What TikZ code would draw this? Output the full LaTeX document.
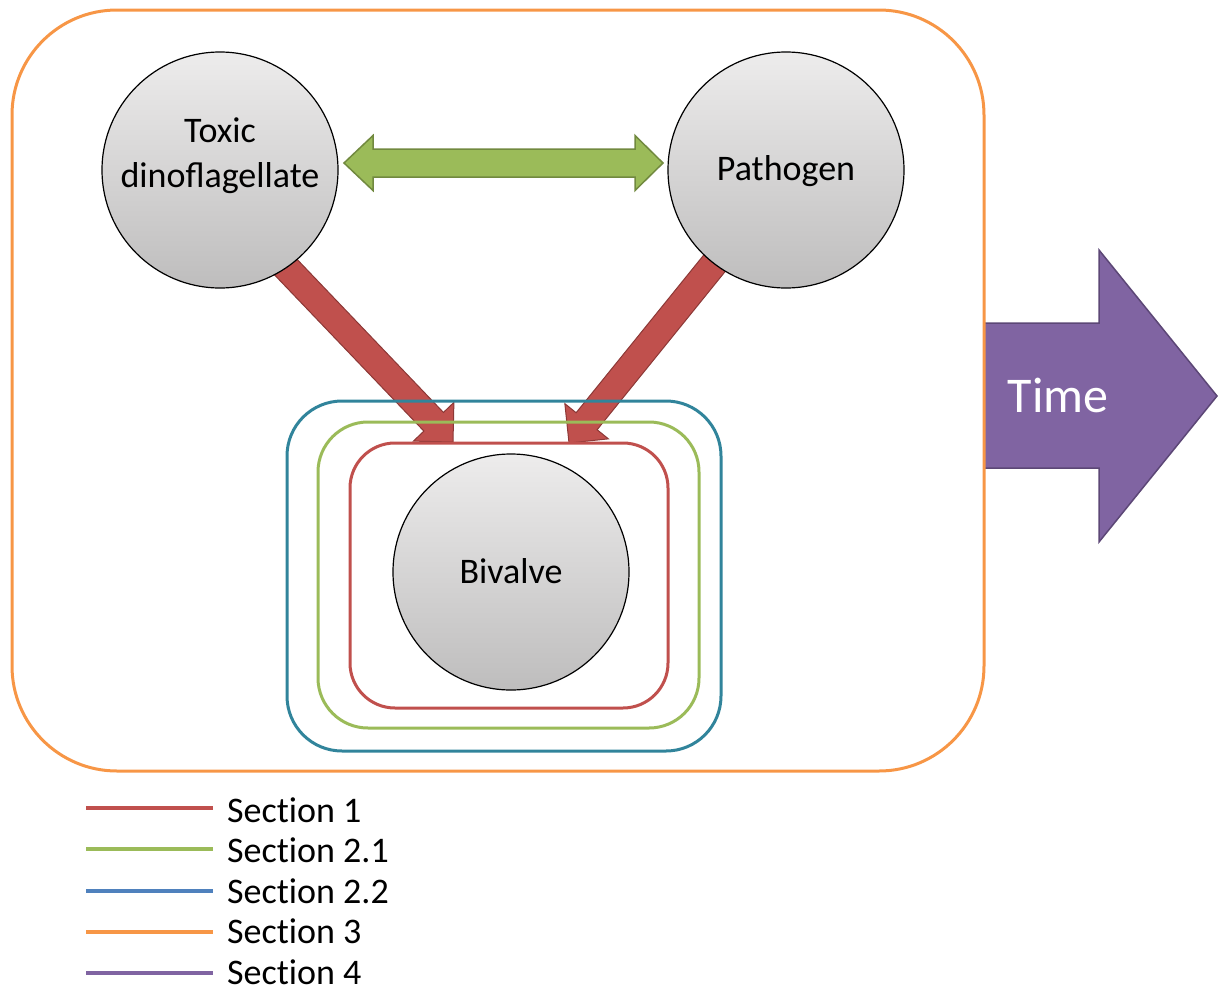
\documentclass[tikz,border=0pt]{standalone}
\usepackage{fontspec}
\setmainfont{Carlito}
\newfontfamily\legfont{Carlito}[Ligatures=NoCommon]
\usetikzlibrary{calc}
\definecolor{cred}{HTML}{C0504D}
\definecolor{cgreen}{HTML}{9BBB59}
\definecolor{cblue}{HTML}{4F81BD}
\definecolor{cteal}{HTML}{31849B}
\definecolor{corange}{HTML}{F79646}
\definecolor{cpurple}{HTML}{8064A2}
\definecolor{credd}{HTML}{8C3836}
\definecolor{cgreend}{HTML}{71893F}
\definecolor{cpurpled}{HTML}{5C4776}
\definecolor{ctop}{RGB}{237,236,236}
\definecolor{cbot}{RGB}{190,189,189}
% style, start, tip, head length, head half width, shaft half width
\newcommand{\myblockarrow}[6]{%
  \coordinate (ba-b) at ($(#3)!#4!(#2)$);
  \draw[#1] ($(#2)!#6!90:(#3)$) -- ($(ba-b)!#6!90:(#3)$) -- ($(ba-b)!#5!90:(#3)$)
    -- (#3) -- ($(ba-b)!#5!-90:(#3)$) -- ($(ba-b)!#6!-90:(#3)$)
    -- ($(#2)!#6!-90:(#3)$) -- cycle;}
\tikzset{
  ball/.style={circle, draw=black, line width=1.2pt, minimum size=236pt, inner sep=0pt,
    top color=ctop, bottom color=cbot, shading=axis},
  balltext/.style={align=center, font=\fontsize{36}{45}\selectfont, inner sep=0pt},
  redarrow/.style={fill=cred, draw=credd, line width=1pt, line join=miter},
  greenarrow/.style={fill=cgreen, draw=cgreend, line width=1.5pt},
  timearrow/.style={fill=cpurple, draw=cpurpled, line width=1.5pt},
  frame/.style={line width=3pt},
  legline/.style={line width=4pt},
  legtext/.style={anchor=base west, font=\legfont\fontsize{36}{44}\selectfont, inner sep=0pt},
}
\begin{document}
\begin{tikzpicture}[x=1pt, y=-1pt]
\useasboundingbox (0,0) rectangle (1221,991);
% Section 4: time arrow
\draw[timearrow] (984,323) -- (1099,323) -- (1099,250) -- (1217,396) -- (1099,542)
  -- (1099,468) -- (984,468) -- cycle;
\node[anchor=base, text=white, font=\fontsize{50}{60}\selectfont, inner sep=0pt] (time) at (1058,412) {Time};
% Section 3 frame
\draw[frame, corange, rounded corners=105pt] (12,10) rectangle (984,771);
% red arrows
\coordinate (ls) at (259.5,239.6);
\coordinate (lt) at (453,442);
\coordinate (rs) at (745.1,225.4);
\coordinate (rt) at (569,443);
\myblockarrow{redarrow}{ls}{lt}{28pt}{28pt}{13.5pt}
\myblockarrow{redarrow}{rs}{rt}{28pt}{28pt}{13.5pt}
% green double arrow
\draw[greenarrow] (344,163) -- (373,135.5) -- (373,149) -- (635,149) -- (635,135.5)
  -- (663,163) -- (635,190.5) -- (635,177) -- (373,177) -- (373,190.5) -- cycle;
% section frames
\draw[frame, cteal, rounded corners=55pt] (287,401) rectangle (721,751);
\draw[frame, cgreen, rounded corners=50pt] (318,422) rectangle (699,728);
\draw[frame, cred, rounded corners=45pt] (350,443) rectangle (668,708);
% circles
\node[ball] (tox) at (220,170) {};
\node[ball] (path) at (786,170) {};
\node[ball] (biv) at (511,572) {};
\node[balltext] (toxt) at (220,156) {Toxic\\dinoflagellate};
\node[balltext] (patht) at (786,171) {Pathogen};
\node[balltext] (bivt) at (511,571) {Bivalve};
% legend
\foreach \i/\y/\b/\c/\t in {1/808/822/cred/Section 1, 2/849/862.5/cgreen/Section 2.1, 3/891/903/cblue/Section 2.2, 4/932/943.5/corange/Section 3, 5/973/984/cpurple/Section 4}{
  \coordinate (la\i) at (86,\y);
  \coordinate (lb\i) at (213,\y);
  \draw[legline, \c] (la\i) -- (lb\i);
  \node[legtext] (lt\i) at (227,\b) {\t};
}
\end{tikzpicture}
\end{document}
